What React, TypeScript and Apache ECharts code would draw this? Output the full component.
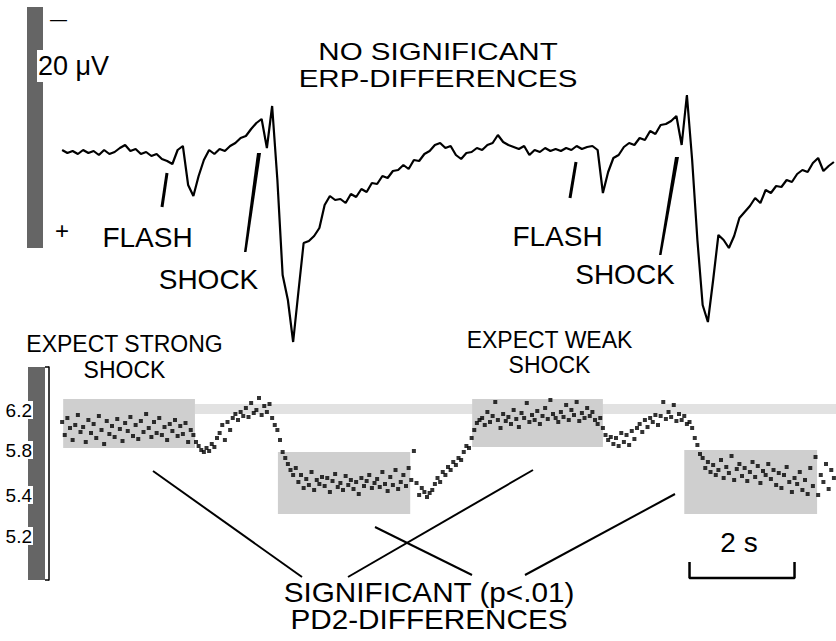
import React, { useEffect, useRef } from 'react';
import * as echarts from 'echarts';

const FONT = "'Liberation Sans', Arial, Helvetica, sans-serif";

// ERP trace (µV, negative up), sampled every 0.1 s
const ERP_DT = 0.1;
const erpValues = [
  0, 0.6, 0.2, 0.8, 0, 0.6, 0.2, 1.0, 0, 0.8,
  0.4, -0.4, -1.0, 0.2, -0.2, 0.8, 0.4, 1.2, 0.8, 1.8,
  2.2, 2.8, 0, -0.8, 7.0, 9.2, 5.2, 2.0, 0, 0.8,
  -0.2, 0.2, -0.8, -1.4, -2.4, -2.8, -4.2, -5.4, -6.2, -0.4,
  -8.8, 6.0, 25.0, 30.0, 38.4, 28.4, 18.6, 18.2, 17.2, 15.6,
  11.0, 9.2, 10.0, 9.8, 10.6, 8.8, 9.4, 7.8, 8.4, 6.6,
  6.8, 5.2, 5.6, 4.2, 4.0, 3.0, 3.8, 2.0, 2.2, 0.8,
  0.2, -1.0, -1.4, -0.4, -0.8, 1.0, 1.8, 0.6, 0.4, -0.4,
  0, -1.0, -1.4, -3.0, -1.6, -1.0, -0.6, -0.2, -0.8, 1.0,
  0, 0.4, -0.4, 0.2, -0.2, 0.2, -0.4, 0, -0.8, -0.2,
  -0.6, -0.8, 0, 8.6, 4.4, 1.6, 1.0, -0.6, -1.4, -1.0,
  -2.4, -2.0, -3.8, -3.2, -5.0, -5.2, -5.8, -6.8, -1.0, -11.0,
  2.0, 18.0, 31.0, 34.4, 26.0, 17.0, 18.0, 19.6, 17.2, 13.6,
  12.4, 11.2, 9.6, 10.6, 8.0, 8.6, 7.2, 7.4, 6.0, 6.4,
  4.8, 4.0, 4.4, 2.6, 1.6, 4.2, 3.2, 2.4,
];

// PD2 dimension, sampled every 0.05 s
const PD2_DT = 0.05;
const pd2Values = [
  6.08, 5.95, 6.12, 6.02, 5.90, 6.05, 6.15, 5.98, 6.03, 5.88,
  6.10, 5.97, 6.06, 5.92, 6.14, 6.00, 5.86, 6.09, 5.96, 6.04,
  5.93, 6.11, 6.01, 5.89, 6.07, 5.99, 6.13, 5.94, 6.05, 5.91,
  6.09, 5.98, 6.16, 6.02, 5.93, 6.08, 5.97, 6.12, 5.95, 6.03,
  5.90, 6.06, 5.99, 6.10, 5.94, 6.04, 5.96, 6.07, 5.88, 6.00,
  5.95, 5.88, 5.84, 5.80, 5.78, 5.82, 5.79, 5.86, 5.83, 5.92,
  5.97, 6.05, 5.90, 6.08, 6.00, 6.12, 6.16, 6.10, 6.18, 6.14,
  6.22, 6.13, 6.27, 6.17, 6.20, 6.32, 6.15, 6.24, 6.18, 6.26,
  6.12, 6.05, 6.00, 5.90, 5.78, 5.72, 5.66, 5.60, 5.55, 5.62,
  5.48, 5.55, 5.42, 5.51, 5.45, 5.58, 5.40, 5.50, 5.46, 5.53,
  5.44, 5.52, 5.38, 5.49, 5.56, 5.43, 5.47, 5.40, 5.54, 5.45,
  5.50, 5.41, 5.48, 5.36, 5.52, 5.44, 5.49, 5.55, 5.42, 5.47,
  5.51, 5.43, 5.58, 5.46, 5.39, 5.53, 5.45, 5.60, 5.41, 5.48,
  5.55, 5.44, 5.62, 5.50, 5.79, 5.47, 5.35, 5.42, 5.38, 5.33,
  5.37, 5.40, 5.46, 5.52, 5.48, 5.58, 5.55, 5.63, 5.60, 5.68,
  5.65, 5.72, 5.70, 5.78, 5.84, 5.82, 5.92, 6.00, 6.07, 6.10,
  6.12, 6.05, 6.18, 6.08, 6.14, 6.28, 6.10, 6.02, 6.16, 6.09,
  6.13, 6.06, 6.20, 6.11, 6.03, 6.17, 6.12, 6.27, 6.08, 6.15,
  6.10, 6.19, 6.06, 6.14, 6.22, 6.11, 6.30, 6.16, 6.12, 6.08,
  6.18, 6.13, 6.25, 6.10, 6.20, 6.15, 6.28, 6.09, 6.17, 6.12,
  6.22, 6.14, 6.18, 6.10, 6.06, 6.12, 6.02, 5.95, 5.90, 5.93,
  5.86, 5.92, 5.84, 5.97, 5.88, 5.95, 5.85, 5.99, 5.91, 6.02,
  6.06, 5.98, 6.10, 6.03, 6.12, 6.08, 6.15, 6.05, 6.14, 6.28,
  6.11, 6.18, 6.13, 6.25, 6.09, 6.16, 6.10, 6.14, 6.06, 6.08,
  6.02, 5.92, 5.85, 5.76, 5.72, 5.62, 5.68, 5.58, 5.65, 5.55,
  5.60, 5.70, 5.52, 5.63, 5.57, 5.74, 5.50, 5.61, 5.66, 5.54,
  5.62, 5.49, 5.58, 5.68, 5.53, 5.64, 5.47, 5.59, 5.55, 5.66,
  5.51, 5.60, 5.45, 5.57, 5.42, 5.55, 5.63, 5.48, 5.38, 5.52,
  5.46, 5.58, 5.40, 5.50, 5.36, 5.62, 5.44, 5.73, 5.35, 5.55,
  5.48, 5.66, 5.41, 5.60, 5.52,
];

// PD2 axis tick labels (as printed) and their positions
const pd2TickLabels = ['6.2', '5.8', '5.4', '5.2'];
const pd2TickPositions = [6.2, 5.8, 5.35, 4.94];

// Shaded periods (significant PD2 ranges)
const regionStart = [0.02, 4.11, 7.81, 11.85];
const regionEnd = [2.53, 6.63, 10.3, 14.38];
const regionHigh = [6.31, 5.78, 6.31, 5.8];
const regionLow = [5.82, 5.16, 5.83, 5.16];
// light reference band
const bandX = [2.53, 14.74];
const bandY = [6.16, 6.26];
// 2 s scale bar
const scaleBarStart = [11.95];
const scaleBarLength = [2];

const T_MIN = -0.25;
const T_MAX = 14.74;

function txt(
  text: string,
  x: number,
  y: number,
  size: number,
  scaleX = 1,
  align = 'center',
  lineHeight?: number
) {
  return {
    type: 'text',
    x,
    y,
    scaleX,
    z: 100,
    style: {
      text,
      fill: '#000',
      fontSize: size,
      fontFamily: FONT,
      lineHeight: lineHeight || size,
      textAlign: align,
      textVerticalAlign: 'middle',
      align,
      verticalAlign: 'middle',
    },
  };
}

function ln(x1: number, y1: number, x2: number, y2: number, w = 2) {
  return {
    type: 'line',
    z: 100,
    shape: { x1, y1, x2, y2 },
    style: { stroke: '#000', lineWidth: w, lineCap: 'butt' },
  };
}

function poly(points: number[][]) {
  return { type: 'polygon', z: 100, shape: { points }, style: { fill: '#000' } };
}

export default function App() {
  const ref = useRef<HTMLDivElement>(null);
  useEffect(() => {
    const chart = echarts.init(ref.current!, null, { renderer: 'svg' });
    const rectData = regionStart.map((s, i) => [
      { xAxis: s, yAxis: regionHigh[i] },
      { xAxis: regionEnd[i], yAxis: regionLow[i] },
    ]);
    const sb0 = scaleBarStart[0];
    const sb1 = sb0 + scaleBarLength[0];
    const option: any = {
      animation: false,
      backgroundColor: '#fff',
      grid: [
        { left: 49, right: 0, top: 0, height: 350 },
        { left: 49, right: 0, top: 367, height: 213 },
      ],
      xAxis: [
        { type: 'value', gridIndex: 0, min: T_MIN, max: T_MAX, show: false },
        { type: 'value', gridIndex: 1, min: T_MIN, max: T_MAX, show: false },
      ],
      yAxis: [
        { type: 'value', gridIndex: 0, min: -30, max: 40, inverse: true, show: false },
        {
          type: 'value',
          gridIndex: 1,
          min: 4.5,
          max: 6.63,
          z: 10,
          axisLine: { show: true, onZero: false, lineStyle: { color: '#000', width: 1.5 } },
          axisTick: {
            show: true,
            customValues: [4.5, 6.63],
            length: 4,
            lineStyle: { color: '#000', width: 1.5 },
          },
          splitLine: { show: false },
          axisLabel: {
            customValues: pd2TickPositions,
            formatter: (v: number) => {
              const k = pd2TickPositions.findIndex((p) => Math.abs(p - v) < 1e-6);
              return k >= 0 ? pd2TickLabels[k] : '';
            },
            margin: 16,
            fontSize: 19,
            fontFamily: FONT,
            color: '#000',
            backgroundColor: '#fff',
            padding: [1, 1, 0, 2],
            lineHeight: 17,
          },
        },
      ],
      series: [
        {
          type: 'line',
          xAxisIndex: 0,
          yAxisIndex: 0,
          data: erpValues.map((v, i) => [+(i * ERP_DT).toFixed(2), v]),
          showSymbol: false,
          symbol: 'none',
          lineStyle: { color: '#000', width: 2.2 },
          silent: true,
          z: 5,
        },
        {
          type: 'line',
          xAxisIndex: 1,
          yAxisIndex: 1,
          data: [],
          z: 1,
          markArea: {
            silent: true,
            itemStyle: { color: '#e2e2e2' },
            label: { show: false },
            data: [[{ xAxis: bandX[0], yAxis: bandY[1] }, { xAxis: bandX[1], yAxis: bandY[0] }]],
          },
        },
        {
          type: 'line',
          xAxisIndex: 1,
          yAxisIndex: 1,
          data: [],
          z: 2,
          markArea: {
            silent: true,
            itemStyle: { color: '#cfcfcf' },
            label: { show: false },
            data: rectData,
          },
        },
        {
          type: 'scatter',
          xAxisIndex: 1,
          yAxisIndex: 1,
          data: pd2Values.map((v, i) => [+(i * PD2_DT).toFixed(3), v]),
          symbol: 'rect',
          symbolSize: 4,
          itemStyle: { color: '#000' },
          silent: true,
          z: 4,
        },
        {
          type: 'line',
          xAxisIndex: 1,
          yAxisIndex: 1,
          data: [
            [sb0, 4.68],
            [sb0, 4.52],
            [sb1, 4.52],
            [sb1, 4.68],
          ],
          showSymbol: false,
          symbol: 'none',
          lineStyle: { color: '#000', width: 2.5 },
          silent: true,
          z: 5,
        },
      ],
      graphic: [
        // gray scale bars
        { type: 'rect', z: 0, shape: { x: 27, y: 7, width: 16, height: 241 }, style: { fill: '#656565' } },
        { type: 'rect', z: 0, shape: { x: 28, y: 367, width: 17, height: 213 }, style: { fill: '#656565' } },
        { type: 'rect', z: 50, shape: { x: 37, y: 50, width: 76, height: 32 }, style: { fill: '#fff' } },
        txt('20 \u03bcV', 38, 66, 27, 1, 'left'),
        txt('\u2014', 58.5, 19, 17),
        txt('+', 62, 230, 24),
        txt('NO SIGNIFICANT\nERP-DIFFERENCES', 438, 65, 24, 1.23, 'center', 27),
        txt('FLASH', 147.5, 237, 28),
        txt('SHOCK', 208.5, 279, 28),
        txt('FLASH', 557.5, 236, 28),
        txt('SHOCK', 625, 274.5, 28),
        txt('EXPECT STRONG\nSHOCK', 124.5, 357, 23, 1, 'center', 26),
        txt('EXPECT WEAK\nSHOCK', 549.5, 352.5, 23, 1, 'center', 25),
        txt('SIGNIFICANT (p<.01)\nPD2-DIFFERENCES', 429, 605.75, 27, 1.1, 'center', 27),
        txt('2 s', 739, 542, 28),
        // pointers
        ln(162, 207, 167, 173, 3),
        poly([[244, 252], [246.5, 252], [261, 153], [257, 153]]),
        ln(570, 198, 576, 162, 3),
        poly([[659, 255], [661.5, 255], [679, 157], [675, 157]]),
        // connectors
        ln(153, 471, 302, 577, 2),
        ln(348, 577, 533, 470, 2),
        ln(375, 527, 472, 575, 2),
        ln(525, 575, 675, 494, 2),
      ],
    };
    chart.setOption(option);
    return () => chart.dispose();
  }, []);
  return (
    <div
      ref={ref}
      style={{ position: 'fixed', left: 0, top: 0, width: 836, height: 641, background: '#fff' }}
    />
  );
}
